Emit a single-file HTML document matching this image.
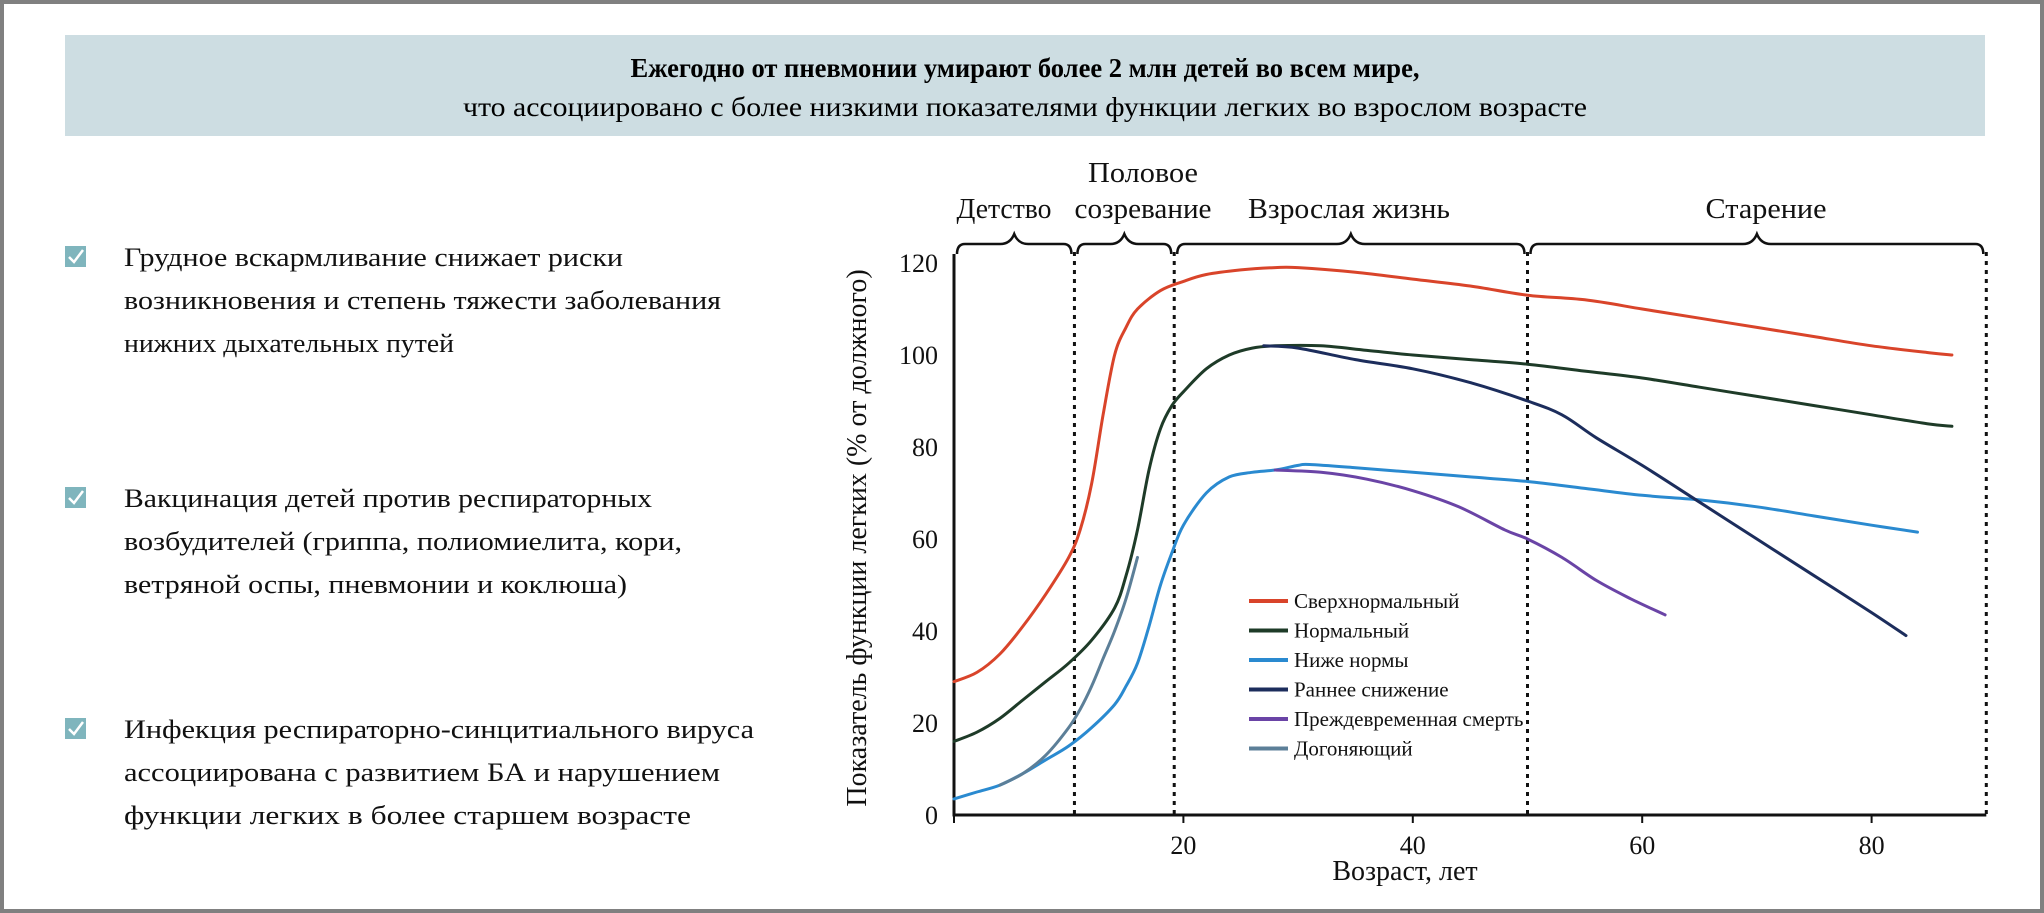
<!DOCTYPE html>
<html><head><meta charset="utf-8">
<style>
html,body{margin:0;padding:0;background:#fff;}
svg{display:block;font-family:"Liberation Serif","DejaVu Serif",serif;}
</style></head>
<body>
<svg id="root" width="2044" height="913" viewBox="0 0 2044 913" xmlns="http://www.w3.org/2000/svg">
<rect x="2" y="2" width="2040" height="909" fill="#fff" stroke="#808080" stroke-width="4"/>
<g>
<rect x="65" y="35" width="1920" height="101" fill="#cddde2"/>
<text x="1025" y="77" text-anchor="middle" font-size="27" font-weight="bold" textLength="789" lengthAdjust="spacingAndGlyphs">Ежегодно от пневмонии умирают более 2 млн детей во всем мире,</text>
<text x="1025" y="116" text-anchor="middle" font-size="27" textLength="1124" lengthAdjust="spacingAndGlyphs">что ассоциировано с более низкими показателями функции легких во взрослом возрасте</text>
</g>
<g id="bullets"></g>
<g id="chart"></g>
</svg>
<script>
// ---- chart data ----
const xTicks = [20, 40, 60, 80];
const yTicks = [0, 20, 40, 60, 80, 100, 120];
const phaseBounds = [0, 10.5, 19.2, 50, 90];
const phaseLabels = [["Детство"], ["Половое", "созревание"], ["Взрослая жизнь"], ["Старение"]];
const seriesNames = ["Сверхнормальный", "Нормальный", "Ниже нормы", "Раннее снижение", "Преждевременная смерть", "Догоняющий"];
const supraAge = [0,2,4,6,8,10,11,12,13,14,15,16,18,20,22,25,28,30,35,40,45,50,55,60,65,70,75,80,85,87];
const supraVal = [29,31,35,41,48,56,62,72,87,100,106,110,114,116,117.5,118.5,119,119,118,116.5,115,113,112,110,108,106,104,102,100.5,100];
const normAge = [0,2,4,6,8,10,12,14,15,16,17,18,19,20,22,24,26,28,32,36,40,45,50,55,60,65,70,75,80,85,87];
const normVal = [16,18,21,25,29,33,38,45,52,62,75,84,89,92,97,100,101.5,102,102,101,100,99,98,96.5,95,93,91,89,87,85,84.5];
const belowAge = [0,2,4,6,8,10,12,14,15,16,17,18,19,20,22,24,26,28,30,31,35,40,45,50,55,60,65,70,75,80,84];
const belowVal = [3.5,5,6.5,9,12,15,19,24,28,33,41,50,57,63,70,73.5,74.5,75,76,76.2,75.5,74.5,73.5,72.5,71,69.5,68.5,67,65,63,61.5];
const earlyAge = [27,30,35,40,45,50,53,56,60,65,70,75,80,83];
const earlyVal = [102,101.5,99,97,94,90,87,82,76,68,60,52,44,39];
const prematureAge = [28,32,36,40,44,48,50,53,56,59,62];
const prematureVal = [75,74.5,73,70.5,67,62,60,56,51,47,43.5];
const catchAge = [4,6,8,10,11,12,13,14,15,16];
const catchVal = [6.5,9,13,19,23,28,34,40,47,56];

const NS = "http://www.w3.org/2000/svg";
const X0 = 954, XS = 11.47, Y0 = 815, YS = 4.6;
function xS(a){ return X0 + a*XS; }
function yS(v){ return Y0 - v*YS; }
function mk(tag, attrs, parent, txt){
  const e = document.createElementNS(NS, tag);
  for (const k in attrs) e.setAttribute(k, attrs[k]);
  if (txt !== undefined) e.textContent = txt;
  parent.appendChild(e);
  return e;
}
function smooth(xs, ys){
  const p = xs.map((a,i)=>[xS(a), yS(ys[i])]);
  let d = "M" + p[0][0].toFixed(1) + "," + p[0][1].toFixed(1);
  for (let i=0;i<p.length-1;i++){
    const p0 = p[i-1]||p[i], p1=p[i], p2=p[i+1], p3=p[i+2]||p2;
    const c1=[p1[0]+(p2[0]-p0[0])/6, p1[1]+(p2[1]-p0[1])/6];
    const c2=[p2[0]-(p3[0]-p1[0])/6, p2[1]-(p3[1]-p1[1])/6];
    d += " C"+c1[0].toFixed(1)+","+c1[1].toFixed(1)+" "+c2[0].toFixed(1)+","+c2[1].toFixed(1)+" "+p2[0].toFixed(1)+","+p2[1].toFixed(1);
  }
  return d;
}

// ---- bullets ----
const bullets = [
  [["Грудное вскармливание снижает риски",499],["возникновения и степень тяжести заболевания",597],["нижних дыхательных путей",330]],
  [["Вакцинация детей против респираторных",528],["возбудителей (гриппа, полиомиелита, кори,",558],["ветряной оспы, пневмонии и коклюша)",503]],
  [["Инфекция респираторно-синцитиального вируса",630],["ассоциирована с развитием БА и нарушением",596],["функции легких в более старшем возрасте",567]]
];
const bulletTops = [257, 498, 729];
const bg = document.getElementById("bullets");
bullets.forEach((b, bi) => {
  const g = mk("g", {}, bg);
  
  
  const top = bulletTops[bi];
  const ic = mk("g", {}, g);
  
  
  mk("rect", {x:65, y:top-11, width:21, height:21, fill:"#7fb5bd"}, ic);
  mk("path", {d:`M69 ${top} l5 5 l9 -12`, stroke:"#fff", "stroke-width":2.5, fill:"none"}, ic);
  b.forEach((ln, li) => {
    const t = mk("text", {x:124, y:top + 9 + li*43, "font-size":26, textLength:ln[1], lengthAdjust:"spacingAndGlyphs", fill:"#111"}, g, ln[0]);
    
    
  });
});

// ---- chart ----
const cg = document.getElementById("chart");
phaseBounds.slice(1).forEach(a => {
  const l = mk("line", {x1:xS(a), x2:xS(a), y1:252, y2:Y0, stroke:"#111", "stroke-width":3, "stroke-dasharray":"4,5"}, cg);
  
  
});
const labelPos = [[[1004,218,95]], [[1143,182,110],[1143,218,137]], [[1349,218,202]], [[1766,218,121]]];
for (let i=0;i<phaseBounds.length-1;i++){
  const a = xS(phaseBounds[i]) + 3, b = xS(phaseBounds[i+1]) - 3, m = (a+b)/2, y = 244;
  const br = mk("path", {d:`M${a} ${y+10} Q${a} ${y} ${a+8} ${y} L${m-14} ${y} Q${m-4} ${y} ${m} ${y-10} Q${m+4} ${y} ${m+14} ${y} L${b-8} ${y} Q${b} ${y} ${b} ${y+10}`, fill:"none", stroke:"#111", "stroke-width":2.5}, cg);
  
  
  phaseLabels[i].forEach((s, k) => {
    const lp = labelPos[i][k];
    const t = mk("text", {x:lp[0], y:lp[1], "text-anchor":"middle", "font-size":29, textLength:lp[2], lengthAdjust:"spacingAndGlyphs", fill:"#111"}, cg, s);
    
    
  });
}
const ax = mk("path", {d:`M${X0} 254 L${X0} ${Y0} L${xS(90)} ${Y0}`, fill:"none", stroke:"#111", "stroke-width":3}, cg);


yTicks.forEach(v => {
  const t = mk("text", {x:938, y:yS(v)+9, "text-anchor":"end", "font-size":26, fill:"#111"}, cg, String(v));
  
  
});
[0].concat(xTicks).forEach(a => {
  const tk = mk("line", {x1:xS(a), x2:xS(a), y1:Y0, y2:Y0+8, stroke:"#111", "stroke-width":2}, cg);
  
  
});
xTicks.forEach(a => {
  const t = mk("text", {x:xS(a), y:854, "text-anchor":"middle", "font-size":26, fill:"#111"}, cg, String(a));
  
  
});
const xt = mk("text", {x:1405, y:880, "text-anchor":"middle", "font-size":28, fill:"#111"}, cg, "Возраст, лет");


const yt = mk("text", {x:0, y:0, "text-anchor":"middle", "font-size":28, fill:"#111", transform:"translate(866,538) rotate(-90)"}, cg, "Показатель функции легких (% от должного)");



const colors = ["#d9442a", "#1e3b28", "#2a8ad0", "#1c2d5c", "#6a44a6", "#5c7f98"];
const series = [
  [supraAge, supraVal, 0, "series-supranormal"],
  [normAge, normVal, 1, "series-normal"],
  [belowAge, belowVal, 2, "series-below-normal"],
  [catchAge, catchVal, 5, "series-catch-up"],
  [earlyAge, earlyVal, 3, "series-early-decline"],
  [prematureAge, prematureVal, 4, "series-premature-death"]
];
series.forEach(s => {
  const p = mk("path", {d:smooth(s[0], s[1]), fill:"none", stroke:colors[s[2]], "stroke-width":3, "stroke-linejoin":"round", "stroke-linecap":"round"}, cg);
  
  
});

const lg = mk("g", {}, cg);


seriesNames.forEach((n, i) => {
  const y = 601 + i*29.5;
  const e = mk("g", {}, lg);
  
  
  mk("line", {x1:1249, x2:1288, y1:y, y2:y, stroke:colors[i], "stroke-width":4}, e);
  mk("text", {x:1294, y:y+7, "font-size":21, fill:"#111"}, e, n);
});
</script>
</body></html>
